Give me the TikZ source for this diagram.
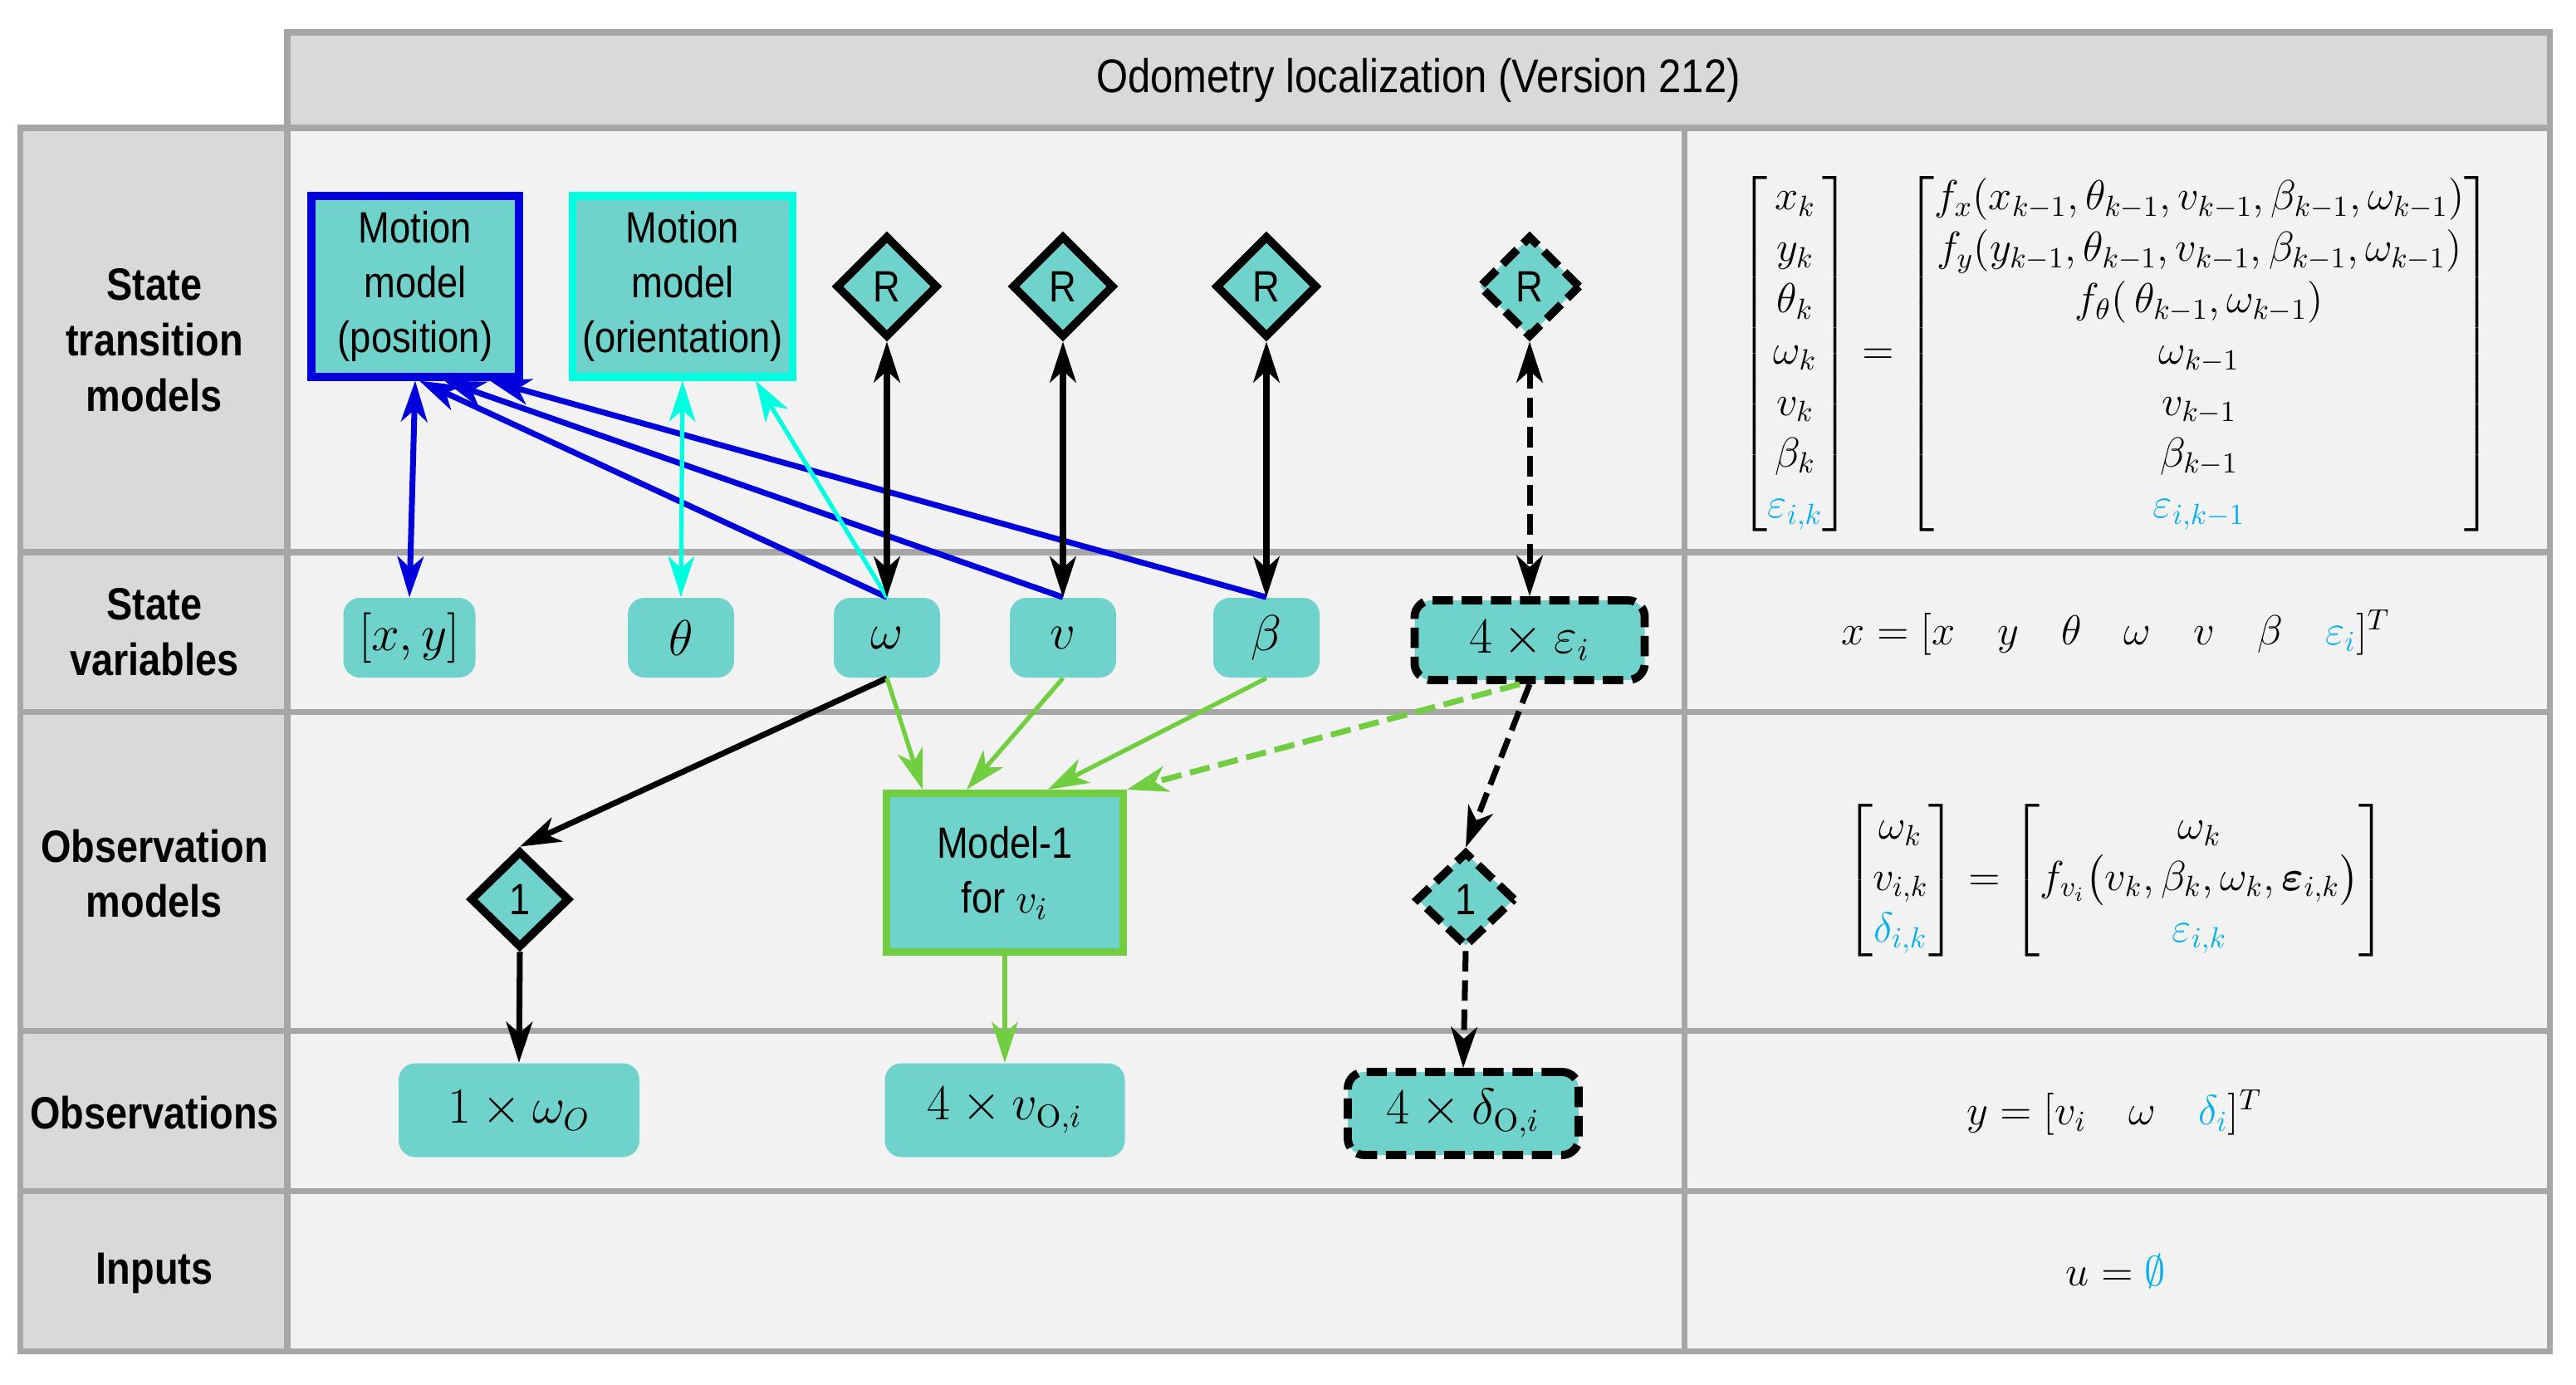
\documentclass[tikz,border=0pt]{standalone}
\usepackage{amsmath,amssymb}
\usepackage[no-math]{fontspec}
\setmainfont{Liberation Sans}[FakeStretch=0.86]
\usetikzlibrary{positioning, arrows.meta, shapes.geometric}
\definecolor{gridgray}{RGB}{166,166,166}
\definecolor{headgray}{RGB}{217,217,217}
\definecolor{cellgray}{RGB}{242,242,242}
\definecolor{nodeteal}{RGB}{112,211,203}
\definecolor{posblue}{RGB}{0,0,220}
\definecolor{oricyan}{RGB}{0,255,225}
\definecolor{mdlgreen}{RGB}{112,206,64}
\definecolor{eqblue}{RGB}{0,176,240}

\begin{document}
\begin{tikzpicture}
			[>={Stealth[length=14pt,width=9pt,inset=4pt]}]
			
			\tikzstyle{gridline} = [draw=gridgray, line width=2pt]
			
			\tikzstyle{rowlabel} = [align=center, font=\fontsize{15.5}{19}\selectfont\bfseries]
			
			\tikzstyle{model} = [rectangle, minimum width=2.5cm, minimum height=2.18cm, align=center, fill=nodeteal, line width=2.6pt, font=\fontsize{15}{18.8}\selectfont]
			
			\tikzstyle{rbox} = [diamond, aspect=1, draw=black, line width=2.8pt, fill=nodeteal, minimum width=1.23cm, minimum height=1.23cm, inner sep=0pt, font=\fontsize{15}{18}\selectfont]
			
			\tikzstyle{var} = [rectangle, rounded corners=0.2cm, fill=nodeteal, minimum width=1.28cm, minimum height=0.96cm, font=\fontsize{16}{19}\selectfont]
			
			\tikzstyle{dashline} = [dash pattern=on 7pt off 3pt]
			
			\tikzstyle{dashbox} = [dashline, draw=black, line width=2.8pt]
			
			\tikzstyle{arrow} = [line width=2pt, ->]
			
			\tikzstyle{eq} = [font=\fontsize{14.5}{17.6}\selectfont]

			\useasboundingbox (0,0) rectangle (31.02,-16.68);
			
			\fill[headgray] (3.46,-0.39) rectangle (30.70,-1.54);
			\fill[headgray] (0.245,-1.54) rectangle (3.46,-16.27);
			\fill[cellgray] (3.46,-1.54) rectangle (30.70,-16.27);
			\draw[gridline] (3.46,-0.39) rectangle (30.70,-16.27);
			\draw[gridline] (0.245,-1.54) rectangle (3.46,-16.27);
			\foreach \y in {1.54,6.65,8.57,12.41,14.34}
			\draw[gridline] (0.245,-\y) -- (30.70,-\y);
			\draw[gridline] (20.28,-1.54) -- (20.28,-16.27);

			\node (hdr) at (17.08,-0.965) [font=\fontsize{16.2}{19}\selectfont] {Odometry localization (Version 212)};
			\node (lst) [rowlabel] at (1.86,-4.10) {State\\transition\\models};
			\node (lsv) [rowlabel] at (1.86,-7.61) {State\\variables};
			\node (lom) [rowlabel] at (1.86,-10.52) {Observation\\models};
			\node (lobs) [rowlabel] at (1.86,-13.40) {Observations};
			\node (lin) [rowlabel] at (1.86,-15.33) {Inputs};
			
			\node (pos) [model, draw=posblue] at (5.00,-3.45) {Motion\\model\\(position)};
			\node (ori) [model, draw=oricyan, minimum width=2.52cm] at (8.22,-3.45) {Motion\\model\\(orientation)};
			\node (ra) [rbox] at (10.68,-3.45) {R};
			\node (rb) [rbox] at (12.80,-3.45) {R};
			\node (rc) [rbox] at (15.25,-3.45) {R};
			\node (rd) [rbox, dashbox] at (18.42,-3.45) {R};
			
			\node (xy) [var, minimum width=1.59cm] at (4.93,-7.68) {$[x,y]$};
			\node (th) [var] at (8.20,-7.68) {$\theta$};
			\node (om) [var, below of=ra, node distance=4.23cm] {$\omega$};
			\node (vel) [var, below of=rb, node distance=4.23cm] {$v$};
			\node (be) [var, below of=rc, node distance=4.23cm] {$\beta$};
			\node (eps) [var, dashbox, minimum width=2.77cm, minimum height=0.96cm, below of=rd, node distance=4.26cm] {$4\times\varepsilon_i$};
			
			\node (onea) [rbox, minimum width=1.2cm, minimum height=1.17cm] at (6.26,-10.83) {1};
			\node (mdl) [model, draw=mdlgreen, minimum width=2.85cm, minimum height=1.91cm] at (12.10,-10.51) {Model-1\\for $v_i$};
			\node (oneb) [rbox, dashbox, minimum width=1.2cm, minimum height=1.15cm] at (17.65,-10.83) {1};
			
			\node (obsw) [var, minimum width=2.9cm, minimum height=1.13cm] at (6.25,-13.37) {$1\times\omega_O$};
			\node (obsv) [var, minimum width=2.89cm, minimum height=1.13cm, below of=mdl, node distance=2.86cm] {$4\times v_{\mathrm{O},i}$};
			\node (obsd) [var, dashbox, minimum width=2.78cm, minimum height=1.0cm] at (17.62,-13.41) {$4\times\delta_{\mathrm{O},i}$};
			
			\draw [arrow, posblue, <->] (pos.south) -- (xy.north);
			\draw [arrow, posblue] (om.north) -- ([xshift=0.05cm]pos.south);
			\draw [arrow, posblue] (vel.north) -- ([xshift=0.35cm]pos.south);
			\draw [arrow, posblue] (be.north) -- ([xshift=0.90cm]pos.south);
			\draw [arrow, oricyan, line width=1.5pt, <->] (ori.south) -- (th.north);
			\draw [arrow, oricyan, line width=1.5pt] (om.north) -- ([xshift=0.88cm]ori.south);
			\draw [arrow, <->] (ra.south) -- (om.north);
			\draw [arrow, <->] (rb.south) -- (vel.north);
			\draw [arrow, <->] (rc.south) -- (be.north);
			\draw [arrow, <->, dashline] (rd.south) -- (eps.north);
			\draw [arrow] (om.south) -- (onea.north);
			\draw [arrow] (onea.south) -- (obsw.north);
			\draw [arrow, dashline] (eps.south) -- (oneb.north);
			\draw [arrow, dashline] (oneb.south) -- (obsd.north);
			\draw [arrow, mdlgreen, line width=1.5pt] (om.south) -- ([xshift=-0.99cm]mdl.north);
			\draw [arrow, mdlgreen, line width=1.5pt] (vel.south) -- ([xshift=-0.46cm]mdl.north);
			\draw [arrow, mdlgreen, line width=1.5pt] (be.south) -- ([xshift=0.52cm]mdl.north);
			\draw [arrow, mdlgreen, dashline] ([xshift=-0.12cm]eps.south) -- (mdl.north east);
			\draw [arrow, mdlgreen, line width=1.5pt] (mdl.south) -- (obsv.north);
			
			\node (eqst) [eq] at (25.48,-4.26) {$\begin{bmatrix} x_k\\ y_k\\ \theta_k\\ \omega_k\\ v_k\\ \beta_k\\ \color{eqblue}\varepsilon_{i,k}\end{bmatrix}=\begin{bmatrix} f_x(x_{k-1},\theta_{k-1},v_{k-1},\beta_{k-1},\omega_{k-1})\\ f_y(y_{k-1},\theta_{k-1},v_{k-1},\beta_{k-1},\omega_{k-1})\\ f_\theta(\,\theta_{k-1},\omega_{k-1})\\ \omega_{k-1}\\ v_{k-1}\\ \beta_{k-1}\\ \color{eqblue}\varepsilon_{i,k-1}\end{bmatrix}$};
			\node (eqsv) [eq] at (25.48,-7.62) {$x=[x\quad y\quad \theta\quad \omega\quad v\quad \beta\quad {\color{eqblue}\varepsilon_i}]^T$};
			\node (eqom) [eq] at (25.48,-10.60) {$\begin{bmatrix}\omega_k\\ v_{i,k}\\ \color{eqblue}\delta_{i,k}\end{bmatrix}=\begin{bmatrix}\omega_k\\ f_{v_i}\bigl(v_k,\beta_k,\omega_k,\boldsymbol{\varepsilon}_{i,k}\bigr)\\ \color{eqblue}\varepsilon_{i,k}\end{bmatrix}$};
			\node (eqobs) [eq] at (25.46,-13.40) {$y=[v_i\quad \omega\quad {\color{eqblue}\delta_i}]^T$};
			\node (eqin) [eq] at (25.48,-15.31) {$u={\color{eqblue}\emptyset}$};
			
		\end{tikzpicture}
\end{document}
